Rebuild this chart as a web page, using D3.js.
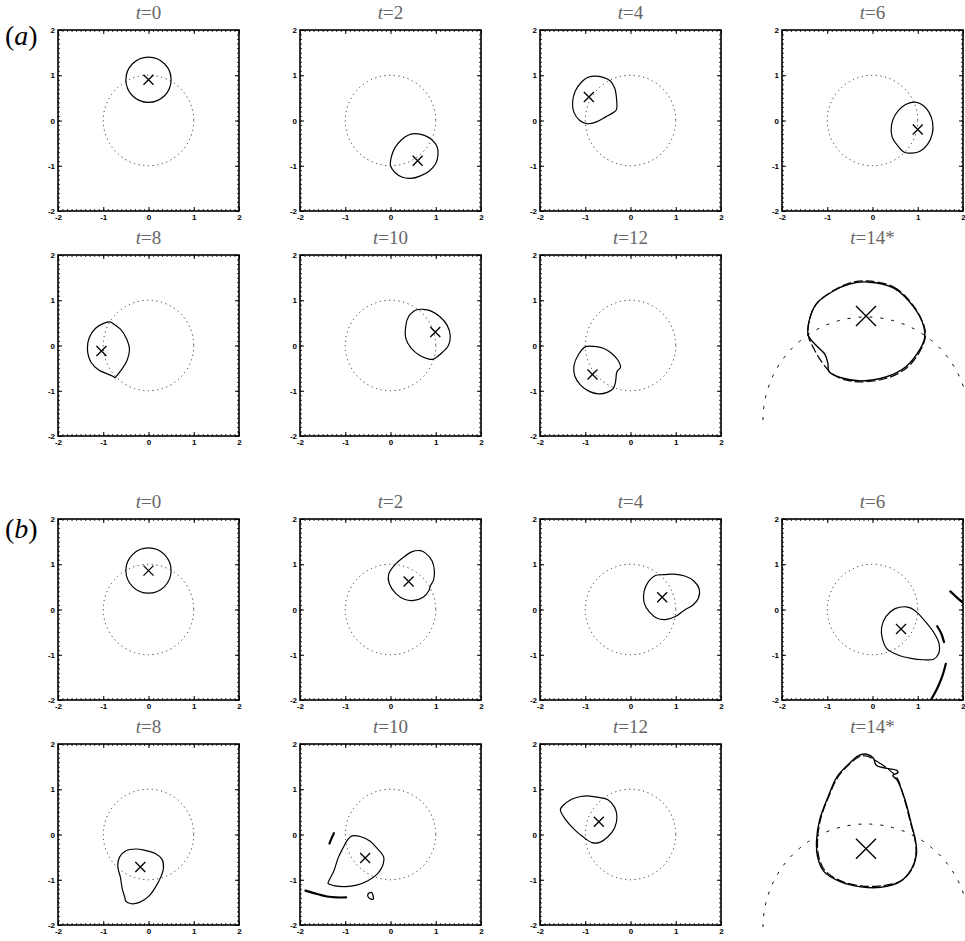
<!DOCTYPE html>
<html>
<head>
<meta charset="utf-8">
<script src="https://cdn.jsdelivr.net/npm/d3@7"></script>
<style>
  body { margin: 0; background: #fff; }
  svg { display: block; }
</style>
</head>
<body>
<svg id="fig"></svg>
<script>
// snapshots of the drop, (a) and (b) runs
const timeLabels = ['0', '2', '4', '6', '8', '10', '12', '14*'];
const axisTicks = [-2, -1, 0, 1, 2];
const minorTicks = d3.range(-20, 21).map(d => d / 10);

// t=0 start circles: [cx, cy, r]
const circleA0 = [0, 0.9, 0.5];
const circleB0 = [0, 0.86, 0.5];

// centre markers, t=0 ... t=14*
const markersA = [[0, 0.9], [0.6, -0.89], [-0.92, 0.52], [1.0, -0.2], [-1.04, -0.12], [0.99, 0.3], [-0.84, -0.64], [0.0, 1.01]];
const markersB = [[0, 0.86], [0.4, 0.62], [0.7, 0.27], [0.63, -0.43], [-0.18, -0.72], [-0.56, -0.52], [-0.7, 0.28], [0.0, 0.76]];

// drop outlines, run (a)
const shapeA2 = [[0.55,-0.29],[0.75,-0.33],[0.92,-0.43],[1.03,-0.58],[1.05,-0.75],[1.0,-0.95],[0.85,-1.12],[0.65,-1.23],[0.45,-1.28],[0.25,-1.25],[0.1,-1.15],[0.0,-1.0],[0.02,-0.8],[0.1,-0.6],[0.25,-0.42],[0.4,-0.32]];
const shapeA4 = [[-0.82,0.98],[-0.62,0.96],[-0.45,0.88],[-0.35,0.72],[-0.31,0.5],[-0.31,0.24],[-0.36,0.19],[-0.55,0.08],[-0.75,-0.03],[-0.97,-0.07],[-1.12,0.0],[-1.25,0.18],[-1.28,0.4],[-1.22,0.65],[-1.08,0.85],[-0.95,0.95]];
const shapeA6 = [[0.98,0.4],[1.12,0.33],[1.25,0.18],[1.33,-0.05],[1.32,-0.3],[1.22,-0.52],[1.05,-0.68],[0.88,-0.72],[0.7,-0.7],[0.55,-0.55],[0.43,-0.35],[0.42,-0.1],[0.5,0.12],[0.65,0.3],[0.82,0.39]];
const shapeA8 = [[-0.84,0.52],[-0.82,0.51],[-0.62,0.36],[-0.48,0.14],[-0.42,-0.08],[-0.47,-0.32],[-0.6,-0.54],[-0.72,-0.69],[-0.74,-0.71],[-0.77,-0.69],[-0.9,-0.63],[-1.1,-0.54],[-1.27,-0.37],[-1.35,-0.08],[-1.31,0.17],[-1.17,0.38],[-0.99,0.49]];
const shapeA10 = [[0.46,0.71],[0.55,0.78],[0.72,0.8],[0.9,0.76],[1.1,0.63],[1.25,0.45],[1.32,0.22],[1.28,0.0],[1.15,-0.15],[0.95,-0.3],[0.85,-0.3],[0.65,-0.22],[0.45,-0.05],[0.34,0.15],[0.34,0.45],[0.4,0.64]];
const shapeA12 = [[-1.0,-0.03],[-0.8,-0.02],[-0.6,-0.06],[-0.42,-0.17],[-0.28,-0.32],[-0.22,-0.48],[-0.3,-0.58],[-0.33,-0.8],[-0.38,-0.95],[-0.5,-1.03],[-0.7,-1.07],[-0.9,-1.02],[-1.1,-0.88],[-1.23,-0.68],[-1.25,-0.45],[-1.15,-0.2]];
const shapeA14 = [[0.01,1.34],[0.27,1.28],[0.46,1.1],[0.56,0.91],[0.57,0.8],[0.52,0.68],[0.39,0.52],[0.2,0.42],[-0.05,0.38],[-0.24,0.41],[-0.36,0.47],[-0.37,0.55],[-0.4,0.64],[-0.48,0.72],[-0.56,0.82],[-0.55,0.97],[-0.48,1.13],[-0.32,1.25],[-0.16,1.32]];
const dashA14 = [[0.01,1.35],[0.27,1.29],[0.46,1.11],[0.565,0.91],[0.575,0.8],[0.525,0.67],[0.4,0.51],[0.2,0.405],[-0.05,0.37],[-0.22,0.395],[-0.33,0.45],[-0.42,0.55],[-0.5,0.68],[-0.56,0.82],[-0.55,0.97],[-0.48,1.13],[-0.32,1.255],[-0.16,1.33]];

// drop outlines, run (b)
const shapeB2 = [[0.66,1.3],[0.78,1.24],[0.92,1.07],[0.97,0.85],[0.95,0.65],[0.88,0.52],[0.85,0.42],[0.72,0.27],[0.52,0.2],[0.32,0.22],[0.12,0.35],[-0.03,0.58],[-0.04,0.78],[0.08,0.97],[0.28,1.15],[0.48,1.28]];
const shapeB4 = [[0.55,0.75],[0.72,0.77],[0.95,0.78],[1.2,0.74],[1.4,0.63],[1.52,0.45],[1.5,0.25],[1.38,0.1],[1.18,-0.02],[1.0,-0.15],[0.8,-0.22],[0.6,-0.2],[0.42,-0.06],[0.3,0.15],[0.3,0.4],[0.4,0.62]];
const shapeB6 = [[0.74,0.06],[0.85,0.03],[1.0,-0.08],[1.18,-0.28],[1.35,-0.5],[1.47,-0.75],[1.46,-0.98],[1.35,-1.1],[1.12,-1.11],[0.85,-1.08],[0.55,-1.0],[0.32,-0.87],[0.22,-0.65],[0.2,-0.4],[0.3,-0.15],[0.5,0.02]];
const shapeB8 = [[-0.28,-0.32],[-0.08,-0.35],[0.15,-0.42],[0.3,-0.55],[0.33,-0.75],[0.28,-0.92],[0.18,-1.12],[0.02,-1.35],[-0.2,-1.5],[-0.38,-1.53],[-0.5,-1.48],[-0.52,-1.4],[-0.58,-1.2],[-0.62,-0.95],[-0.68,-0.7],[-0.64,-0.5],[-0.5,-0.36]];
const shapeB10 = [[-0.85,-0.03],[-0.65,-0.05],[-0.45,-0.15],[-0.3,-0.3],[-0.15,-0.5],[-0.18,-0.7],[-0.3,-0.88],[-0.5,-1.02],[-0.75,-1.12],[-1.0,-1.15],[-1.25,-1.13],[-1.38,-1.08],[-1.35,-1.0],[-1.25,-0.8],[-1.15,-0.5],[-1.05,-0.3],[-0.95,-0.12]];
const shapeB12 = [[-1.3,0.78],[-1.1,0.84],[-0.9,0.85],[-0.7,0.82],[-0.5,0.77],[-0.35,0.6],[-0.3,0.4],[-0.35,0.15],[-0.5,-0.05],[-0.7,-0.18],[-0.85,-0.18],[-1.05,-0.05],[-1.25,0.12],[-1.45,0.35],[-1.55,0.55],[-1.5,0.63]];
const shapeB14 = [[-0.01,1.68],[0.07,1.64],[0.1,1.57],[0.2,1.54],[0.3,1.52],[0.31,1.5],[0.26,1.47],[0.3,1.43],[0.38,1.23],[0.44,1.0],[0.48,0.84],[0.49,0.71],[0.44,0.56],[0.33,0.44],[0.14,0.385],[-0.05,0.39],[-0.25,0.44],[-0.41,0.54],[-0.47,0.68],[-0.48,0.84],[-0.45,1.04],[-0.37,1.26],[-0.28,1.46],[-0.16,1.59],[-0.08,1.66]];
const dashB14 = [[0.0,1.66],[0.12,1.6],[0.22,1.53],[0.3,1.45],[0.37,1.25],[0.43,1.02],[0.475,0.85],[0.485,0.72],[0.45,0.57],[0.34,0.45],[0.15,0.4],[-0.05,0.4],[-0.25,0.45],[-0.4,0.55],[-0.46,0.69],[-0.47,0.85],[-0.44,1.05],[-0.36,1.27],[-0.27,1.46],[-0.15,1.59],[-0.07,1.65]];

// detached pieces (open strands and one small loop)
const piecesB6 = [
  [[1.72,0.4],[1.85,0.28],[2.02,0.13]],
  [[1.43,-0.37],[1.52,-0.53],[1.58,-0.72]],
  [[1.62,-1.2],[1.55,-1.45],[1.45,-1.7],[1.29,-2.0]]
];
const piecesB10 = [
  [[-1.35,-0.2],[-1.3,-0.08],[-1.25,0.03]],
  [[-1.88,-1.24],[-1.6,-1.32],[-1.4,-1.37],[-1.2,-1.39],[-0.98,-1.39]]
];
const loopB10 = [[-0.5,-1.32],[-0.42,-1.28],[-0.38,-1.43],[-0.48,-1.4]];

const shapesA = [null, shapeA2, shapeA4, shapeA6, shapeA8, shapeA10, shapeA12];
const shapesB = [null, shapeB2, shapeB4, shapeB6, shapeB8, shapeB10, shapeB12];

// layout
const W = 965, H = 941;
const colLeft = [58, 300, 540, 782];
const rowTop = [30, 255, 519, 744];
const box = 181;

const svg = d3.select('#fig').attr('width', W).attr('height', H);
const defs = svg.append('defs');

function title(x, y, label) {
  const t = svg.append('text')
    .attr('x', x).attr('y', y)
    .attr('text-anchor', 'middle')
    .style('font-family', '"Liberation Serif", serif')
    .style('font-size', '19px')
    .style('fill', '#666');
  t.append('tspan').style('font-style', 'italic').text('t');
  t.append('tspan').text('=' + label);
}

function panel(row, col, label, circle0, shape, marker, pieces, loops) {
  const x0 = colLeft[col], y0 = rowTop[row];
  const x = d3.scaleLinear().domain([-2, 2]).range([x0, x0 + box]);
  const y = d3.scaleLinear().domain([-2, 2]).range([y0 + box, y0]);
  const g = svg.append('g');
  const fmt = d => String(d);

  const axes = [
    [d3.axisBottom(x), `translate(0,${y0 + box})`, true],
    [d3.axisLeft(y), `translate(${x0},0)`, true],
    [d3.axisTop(x), `translate(0,${y0})`, false],
    [d3.axisRight(y), `translate(${x0 + box},0)`, false]
  ];
  axes.forEach(([ax, tr, lab]) => {
    const major = g.append('g').attr('transform', tr)
      .call(ax.tickValues(axisTicks).tickSizeInner(-4).tickSizeOuter(0)
        .tickPadding(3).tickFormat(lab ? fmt : ''));
    major.select('.domain').remove();
    major.selectAll('text').style('font-family', '"Liberation Sans", Arial, sans-serif')
      .style('font-size', '8px').style('font-weight', 'bold').attr('fill', '#000');
    const minor = g.append('g').attr('transform', tr)
      .call(ax.tickValues(minorTicks).tickSizeInner(-2).tickSizeOuter(0).tickFormat(''));
    minor.select('.domain').remove();
    major.selectAll('line').attr('stroke-width', 1);
    minor.selectAll('line').attr('stroke-width', 0.8);
  });

  g.append('rect')
    .attr('x', x0).attr('y', y0).attr('width', box).attr('height', box)
    .attr('fill', 'none').attr('stroke', '#000').attr('stroke-width', 1.6);

  const clipId = `clip-${row}-${col}`;
  defs.append('clipPath').attr('id', clipId)
    .append('rect').attr('x', x0).attr('y', y0).attr('width', box).attr('height', box);
  const inner = g.append('g').attr('clip-path', `url(#${clipId})`);

  // unit circle (dotted)
  inner.append('circle')
    .attr('cx', x(0)).attr('cy', y(0)).attr('r', x(1) - x(0))
    .attr('fill', 'none').attr('stroke', '#222').attr('stroke-width', 1)
    .attr('stroke-dasharray', '1.1,3.6');

  const outline = d3.line().x(d => x(d[0])).y(d => y(d[1]))
    .curve(d3.curveCatmullRomClosed.alpha(0.5));
  const strand = d3.line().x(d => x(d[0])).y(d => y(d[1]))
    .curve(d3.curveCatmullRom.alpha(0.5));

  if (circle0) {
    inner.append('circle')
      .attr('cx', x(circle0[0])).attr('cy', y(circle0[1]))
      .attr('r', x(circle0[2]) - x(0))
      .attr('fill', 'none').attr('stroke', '#000').attr('stroke-width', 1.2);
  } else {
    inner.append('path').attr('d', outline(shape))
      .attr('fill', 'none').attr('stroke', '#000').attr('stroke-width', 1.2);
  }
  (pieces || []).forEach(p => {
    inner.append('path').attr('d', strand(p))
      .attr('fill', 'none').attr('stroke', '#000').attr('stroke-width', 2.2)
      .attr('stroke-linecap', 'round');
  });
  (loops || []).forEach(p => {
    inner.append('path').attr('d', outline(p))
      .attr('fill', 'none').attr('stroke', '#000').attr('stroke-width', 1.3);
  });

  inner.append('path')
    .attr('transform', `translate(${x(marker[0])},${y(marker[1])})`)
    .attr('d', 'M-5,-5L5,5M-5,5L5,-5')
    .attr('stroke', '#000').attr('stroke-width', 1.3);

  title(x0 + box / 2, y0 - 11, label);
}

function zoomPanel(row, originY, shape, dash, marker) {
  const x = d3.scaleLinear().domain([-1, 1]).range([763, 969]);
  const y = d3.scaleLinear().domain([0, 1]).range([originY, originY - 103]);
  const g = svg.append('g');
  const r = x(1) - x(0);

  const p = d3.path();
  p.moveTo(x(-1), y(0));
  p.arc(x(0), y(0), r, Math.PI, 2 * Math.PI);
  g.append('path').attr('d', p.toString())
    .attr('fill', 'none').attr('stroke', '#000').attr('stroke-width', 1)
    .attr('stroke-dasharray', '3,8');

  const outline = d3.line().x(d => x(d[0])).y(d => y(d[1]))
    .curve(d3.curveCatmullRomClosed.alpha(0.5));
  g.append('path').attr('d', outline(dash))
    .attr('fill', 'none').attr('stroke', '#000').attr('stroke-width', 1.2)
    .attr('stroke-dasharray', '9,3');
  g.append('path').attr('d', outline(shape))
    .attr('fill', 'none').attr('stroke', '#000').attr('stroke-width', 1.4);

  g.append('path')
    .attr('transform', `translate(${x(marker[0])},${y(marker[1])})`)
    .attr('d', 'M-10,-10L10,10M-10,10L10,-10')
    .attr('stroke', '#000').attr('stroke-width', 1.4);

  title(colLeft[3] + box / 2, rowTop[row] - 11, timeLabels[7]);
}

function group(rowOffset, circle0, shapes, markers, extras) {
  for (let k = 0; k < 7; k++) {
    const row = rowOffset + Math.floor(k / 4), col = k % 4;
    const ex = extras[k] || {};
    panel(row, col, timeLabels[k], k === 0 ? circle0 : null, shapes[k], markers[k], ex.pieces, ex.loops);
  }
}

group(0, circleA0, shapesA, markersA, {});
zoomPanel(1, 420, shapeA14, dashA14, markersA[7]);
group(2, circleB0, shapesB, markersB, {3: {pieces: piecesB6}, 5: {pieces: piecesB10, loops: [loopB10]}});
zoomPanel(3, 927, shapeB14, dashB14, markersB[7]);

// run labels
[['a', 45], ['b', 538]].forEach(([l, yy]) => {
  const t = svg.append('text').attr('x', 5).attr('y', yy)
    .style('font-family', '"Liberation Serif", serif').style('font-size', '28px');
  t.append('tspan').text('(');
  t.append('tspan').style('font-style', 'italic').text(l);
  t.append('tspan').text(')');
});
</script>
</body>
</html>
